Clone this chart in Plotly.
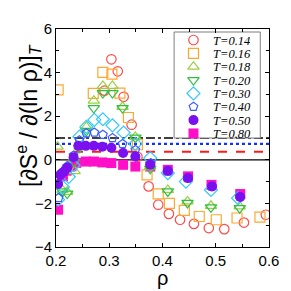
import plotly.graph_objects as go

# ---- data ----
temps = ["0.14", "0.16", "0.18", "0.20", "0.30", "0.40", "0.50", "0.80"]

rho14 = [0.291, 0.304, 0.316, 0.327, 0.342, 0.353, 0.374, 0.392, 0.412, 0.433, 0.459, 0.487, 0.516, 0.553, 0.594]
s14 = [3.17, 4.61, 4.06, 2.89, 1.61, 0.14, -1.22, -2.06, -2.48, -2.75, -2.94, -3.13, -3.18, -2.88, -2.52]

rho16 = [0.204, 0.270, 0.288, 0.305, 0.320, 0.336, 0.353, 0.371, 0.392, 0.413, 0.441, 0.469, 0.501, 0.540, 0.583]
s16 = [3.21, 3.05, 4.01, 3.93, 3.06, 1.94, 0.69, -0.69, -1.56, -2.00, -2.32, -2.60, -2.75, -2.67, -2.63]

rho18 = [0.203, 0.212, 0.221, 0.235, 0.244, 0.257, 0.271, 0.288, 0.306, 0.325, 0.349, 0.377, 0.410, 0.447, 0.491, 0.545]
s18 = [0.60, -1.38, -1.47, -0.52, 0.60, 1.51, 2.71, 3.39, 3.39, 2.43, 1.05, -0.31, -1.38, -1.91, -2.11, -2.14]

rho20 = [0.212, 0.221, 0.234, 0.244, 0.257, 0.271, 0.288, 0.306, 0.325, 0.349, 0.377, 0.410, 0.447, 0.491, 0.545]
s20 = [-1.45, -1.55, -0.10, 0.55, 1.33, 2.37, 3.06, 3.06, 2.37, 1.02, -0.41, -1.45, -1.98, -2.18, -2.22]

rho30 = [0.204, 0.213, 0.224, 0.233, 0.244, 0.257, 0.272, 0.288, 0.306, 0.327, 0.349, 0.377, 0.410, 0.444, 0.491, 0.542]
s30 = [-1.83, -1.25, -0.78, -0.25, 1.06, 1.51, 1.83, 1.86, 1.58, 1.25, 0.73, 0.08, -0.61, -1.00, -1.38, -1.76]

rho40 = [0.205, 0.212, 0.221, 0.233, 0.244, 0.257, 0.272, 0.288, 0.306, 0.325, 0.349, 0.378, 0.410, 0.447, 0.492, 0.545]
s40 = [-1.75, -0.55, -0.30, 0.20, 0.90, 1.22, 1.25, 1.15, 1.00, 0.73, 0.45, -0.15, -0.54, -0.84, -1.22, -1.68]

rho50 = [0.204, 0.208, 0.215, 0.221, 0.233, 0.242, 0.256, 0.271, 0.287, 0.304, 0.326, 0.349, 0.377, 0.410, 0.448, 0.493, 0.546]
s50 = [-1.11, -0.69, -0.55, -0.37, 0.12, 0.64, 0.64, 0.64, 0.60, 0.55, 0.31, 0.15, -0.23, -0.50, -0.84, -1.22, -1.71]

rho80 = [0.204, 0.213, 0.220, 0.229, 0.238, 0.256, 0.271, 0.287, 0.304, 0.326, 0.349, 0.377, 0.410, 0.448, 0.492, 0.546]
s80 = [-2.29, -0.75, -0.50, -0.30, -0.14, -0.08, -0.08, -0.12, -0.15, -0.23, -0.31, -0.31, -0.46, -0.76, -1.15, -1.57]

hline_values = [1.0, 0.73, 0.37, 0.0]

# ---- styles ----
series = {
    "0.14": (rho14, s14, "circle-open", "#ff4a4a", 9.5),
    "0.16": (rho16, s16, "square-open", "#ffa830", 10),
    "0.18": (rho18, s18, "triangle-up-open", "#99d040", 10),
    "0.20": (rho20, s20, "triangle-down-open", "#30c040", 10),
    "0.30": (rho30, s30, "diamond-open", "#30c8ff", 10),
    "0.40": (rho40, s40, "pentagon-open", "#3a5cff", 9),
    "0.50": (rho50, s50, "circle", "#7a10f0", 10),
    "0.80": (rho80, s80, "square", "#ff10c8", 10),
}
hline_styles = [("black", "dashdot", 1.3), ("#1030ff", "dot", 2.2), ("#ff1a1a", "dash", 2.0), ("black", "solid", 1.2)]

fig = go.Figure()

draw_order = ["0.80", "0.14", "0.16", "0.18", "0.20", "0.30", "0.40", "0.50"]
for t in draw_order:
    x, y, sym, col, sz = series[t]
    filled = not sym.endswith("open")
    fig.add_trace(go.Scatter(
        x=x, y=y, mode="markers", showlegend=False,
        marker=dict(symbol=sym, size=sz, color=col,
                    line=dict(color=col, width=0 if filled else 1.2)),
    ))

shapes = []
for v, (c, d, w) in zip(hline_values, hline_styles):
    shapes.append(dict(type="line", xref="x domain", yref="y", x0=0, x1=1, y0=v, y1=v,
                       line=dict(color=c, dash=d, width=w), layer="below"))

# manual legend box
W, H = 220.0, 218.0
def px2x(px): return (px - 56) / W
def py2y(py): return (247 - py) / H
shapes.append(dict(type="rect", xref="paper", yref="paper",
                   x0=px2x(178), x1=px2x(267), y0=py2y(138), y1=py2y(32),
                   fillcolor="white", line=dict(color="#7f7f7f", width=1), layer="below"))

annotations = []
for i, t in enumerate(temps):
    x, y, sym, col, sz = series[t]
    filled = not sym.endswith("open")
    rowy = py2y(40 + i * 13.35)
    fig.add_trace(go.Scatter(
        x=[px2x(198)], y=[rowy], xaxis="x2", yaxis="y2", mode="markers", showlegend=False,
        marker=dict(symbol=sym, size=sz, color=col,
                    line=dict(color=col, width=0 if filled else 1.2)),
    ))
    annotations.append(dict(xref="paper", yref="paper", x=px2x(217), y=rowy,
                            xanchor="left", yanchor="middle", showarrow=False,
                            borderpad=0, height=13,
                            text="<i>T=" + t + "</i>",
                            font=dict(family="Liberation Serif", size=12.5, color="black")))

# axis titles as annotations
annotations.append(dict(xref="paper", yref="paper", x=px2x(27), y=py2y(115),
                        xanchor="center", yanchor="middle", showarrow=False, textangle=-90,
                        text="[∂S<sup>e</sup> / ∂(ln ρ)]<sub><i>T</i></sub>",
                        font=dict(family="Liberation Sans, Arial", size=23, color="black")))
annotations.append(dict(xref="paper", yref="paper", x=px2x(166), y=py2y(278),
                        xanchor="center", yanchor="middle", showarrow=False,
                        text="ρ", font=dict(family="Liberation Sans, Arial", size=20, color="black")))

fig.update_layout(
    width=291, height=291,
    margin=dict(l=56, r=15, t=29, b=44),
    paper_bgcolor="white", plot_bgcolor="white",
    font=dict(family="Liberation Sans, Arial", color="black"),
    shapes=shapes, annotations=annotations,
    xaxis=dict(range=[0.2, 0.6], dtick=0.1, tick0=0.2, tickformat=".1f",
               ticks="inside", ticklen=4, tickcolor="black",
               minor=dict(dtick=0.05, ticks="inside", ticklen=3, tickcolor="black"),
               showline=True, linecolor="black", linewidth=1, mirror="allticks",
               showgrid=False, zeroline=False, tickfont=dict(size=15)),
    yaxis=dict(range=[-4, 6], dtick=2, ticks="inside", ticklen=4, tickcolor="black",
               minor=dict(dtick=1, ticks="inside", ticklen=3, tickcolor="black"),
               showline=True, linecolor="black", linewidth=1, mirror="allticks",
               showgrid=False, zeroline=False, tickfont=dict(size=15)),
    xaxis2=dict(overlaying="x", range=[0, 1], visible=False),
    yaxis2=dict(overlaying="y", range=[0, 1], visible=False),
)

fig.write_html("out.html",
               config={"displayModeBar": False, "staticPlot": True},
               post_script="document.body.style.margin='0';document.documentElement.style.overflow='hidden';")
